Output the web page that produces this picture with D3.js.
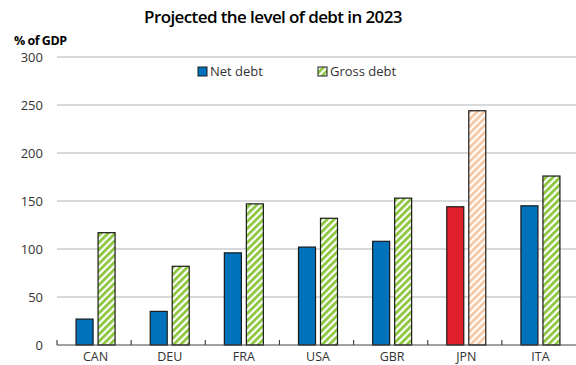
<!DOCTYPE html>
<html>
<head>
<meta charset="utf-8">
<script src="https://cdn.jsdelivr.net/npm/d3@7"></script>
<style>
  html, body { margin: 0; padding: 0; background: #fff; }
  svg { display: block; }
</style>
</head>
<body>
<svg id="chart" width="576" height="365"></svg>
<script>
// Projected debt levels, % of GDP
const countries = ["CAN", "DEU", "FRA", "USA", "GBR", "JPN", "ITA"];
const netDebt   = [27, 35, 96, 102, 108, 144, 145];
const grossDebt = [117, 82, 147, 132, 153, 244, 176];
const yTicks    = [0, 50, 100, 150, 200, 250, 300];
const highlight = "JPN";

const svg = d3.select("#chart");
const W = 576, H = 365;
const margin = { left: 57, right: 0, top: 57, bottom: 20 };
const font = "'Open Sans', 'Noto Sans', sans-serif";

// Hatch patterns for gross debt
const defs = svg.append("defs");
function hatch(id, color) {
  const p = defs.append("pattern")
    .attr("id", id).attr("patternUnits", "userSpaceOnUse")
    .attr("width", 5).attr("height", 5)
    .attr("patternTransform", "rotate(45)");
  p.append("rect").attr("width", 5).attr("height", 5).attr("fill", "#fff");
  p.append("rect").attr("x", 0).attr("width", 2.8).attr("height", 5).attr("fill", color);
}
hatch("hatchGreen", "#8cc63e");
hatch("hatchPeach", "#f8c7a4");

const x = d3.scaleBand().domain(countries).range([margin.left, W - margin.right]);
const y = d3.scaleLinear().domain([0, 300]).range([345, 57]);

// Gridlines
svg.append("g").selectAll("line").data(yTicks.filter(d => d > 0)).join("line")
  .attr("x1", margin.left).attr("x2", W)
  .attr("y1", d => y(d)).attr("y2", d => y(d))
  .attr("stroke", "#d9d9d9").attr("stroke-width", 2);

// Y axis labels
const yAxis = d3.axisLeft(y).tickValues(yTicks).tickSize(0).tickPadding(14);
const gy = svg.append("g").attr("transform", `translate(${margin.left},0)`).call(yAxis);
gy.select(".domain").remove();
gy.selectAll("text").attr("font-family", font).attr("font-size", 13).attr("fill", "#333");

// Bars
const barW = 17, gap = 5;
const bars = svg.append("g");
countries.forEach((c, i) => {
  const cx = x(c) + x.bandwidth() / 2 + 1.5;
  const isHi = c === highlight;
  bars.append("rect")
    .attr("x", cx - gap / 2 - barW).attr("width", barW)
    .attr("y", y(netDebt[i])).attr("height", y(0) - y(netDebt[i]))
    .attr("fill", isHi ? "#e0202a" : "#0072bc")
    .attr("stroke", "#1a1a1a").attr("stroke-width", 1.2);
  bars.append("rect")
    .attr("x", cx + gap / 2).attr("width", barW)
    .attr("y", y(grossDebt[i])).attr("height", y(0) - y(grossDebt[i]))
    .attr("fill", isHi ? "url(#hatchPeach)" : "url(#hatchGreen)")
    .attr("stroke", "#1a1a1a").attr("stroke-width", 1.2);
});

// X axis with inward ticks between categories
const gx = svg.append("g").attr("transform", `translate(0,${y(0)})`);
gx.append("line").attr("x1", margin.left).attr("x2", W)
  .attr("stroke", "#444").attr("stroke-width", 1.2);
const bounds = countries.map(c => x(c));
gx.selectAll("line.tk").data(bounds).join("line").attr("class", "tk")
  .attr("x1", d => d).attr("x2", d => d).attr("y1", 0).attr("y2", -5)
  .attr("stroke", "#444").attr("stroke-width", 1.2);
gx.selectAll("text").data(countries).join("text")
  .attr("x", d => x(d) + x.bandwidth() / 2 + 1.5).attr("y", 16)
  .attr("text-anchor", "middle")
  .attr("font-family", font).attr("font-size", 12.5).attr("fill", "#333")
  .text(d => d);

// Title
svg.append("text").attr("x", 273).attr("y", 23).attr("text-anchor", "middle")
  .attr("font-family", font).attr("font-size", 17).attr("font-weight", 600)
  .attr("letter-spacing", -0.6).attr("fill", "#000")
  .text("Projected the level of debt in 2023");

// Axis unit
svg.append("text").attr("x", 14).attr("y", 45)
  .attr("font-family", font).attr("font-size", 12.5).attr("font-weight", 700)
  .attr("letter-spacing", -0.5).attr("fill", "#000")
  .text("% of GDP");

// Legend
const legend = [
  { label: "Net debt", fill: "#0072bc", x: 198 },
  { label: "Gross debt", fill: "url(#hatchGreen)", x: 318 }
];
const lg = svg.append("g");
legend.forEach(l => {
  lg.append("rect").attr("x", l.x).attr("y", 67).attr("width", 9).attr("height", 9)
    .attr("fill", l.fill).attr("stroke", "#1a1a1a").attr("stroke-width", 1);
  lg.append("text").attr("x", l.x + 12).attr("y", 76)
    .attr("font-family", font).attr("font-size", 13).attr("fill", "#333")
    .text(l.label);
});
</script>
</body>
</html>
